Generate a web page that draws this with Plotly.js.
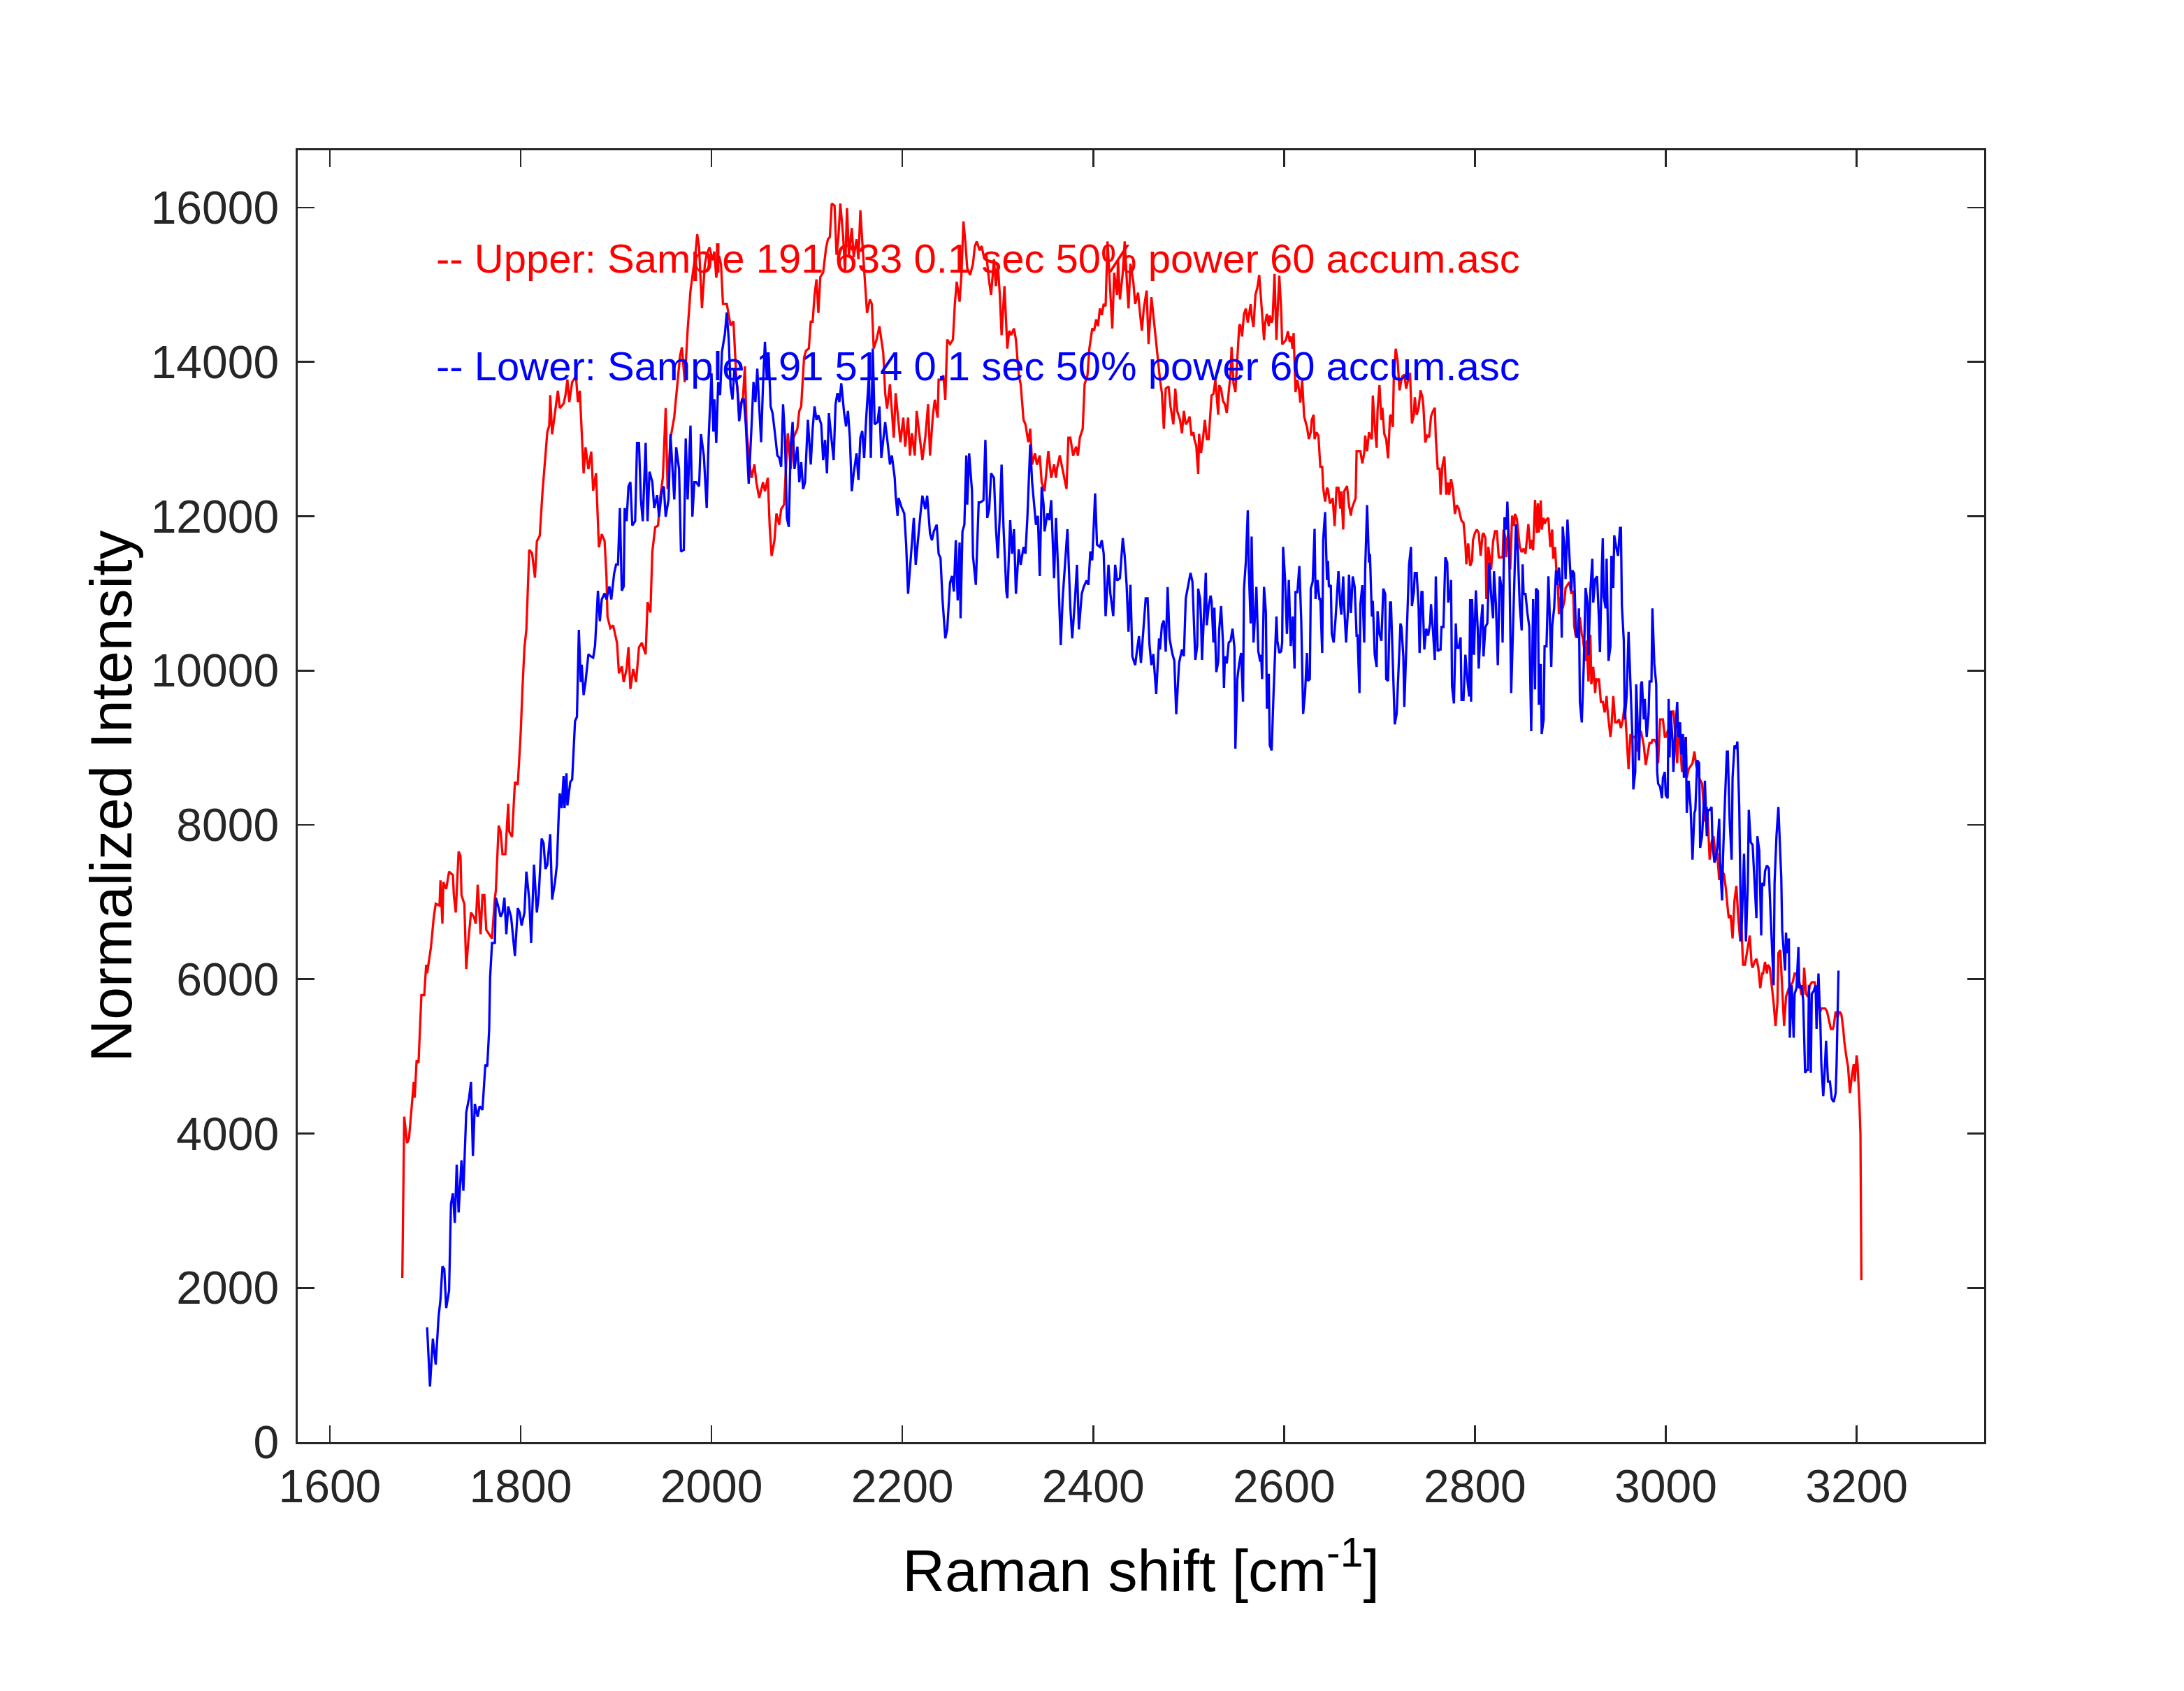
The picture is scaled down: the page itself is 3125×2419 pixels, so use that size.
<!DOCTYPE html>
<html>
<head>
<meta charset="utf-8">
<script src="https://cdn.plot.ly/plotly-3.0.1.min.js"></script>
<style>
  html, body { margin: 0; padding: 0; background: #ffffff; }
  #graficoRaman { width: 3125px; height: 2419px; }
</style>
</head>
<body>
<div id="graficoRaman"></div>
<script>
// Raman shift [cm-1], normalized intensity
const upperSpectrum = [
  [1676,2130],[1678,4217],[1681,3878],[1683,3935],[1688,4667],[1689,4464],[1691,4950],[1693,4915],[1696,5794],[1699,5794],
  [1701,6188],[1702,6076],[1706,6414],[1709,6808],[1711,6977],[1715,6955],[1716,7282],[1718,6718],[1719,7259],[1722,7169],
  [1725,7394],[1729,7349],[1730,7090],[1732,6864],[1735,7654],[1737,7597],[1738,7090],[1741,6977],[1743,6132],[1745,6470],
  [1748,6864],[1751,6808],[1753,6718],[1755,7225],[1756,7034],[1758,6583],[1760,7090],[1762,7090],[1764,6639],[1767,6583],
  [1770,6527],[1773,7056],[1774,7146],[1777,7992],[1779,7913],[1781,7620],[1784,7620],[1787,8274],[1788,7913],[1791,7845],
  [1794,8555],[1797,8521],[1800,9175],[1802,9795],[1804,10302],[1806,10528],[1809,11565],[1812,11520],[1815,11204],[1817,11677],
  [1820,11745],[1823,12331],[1826,12781],[1828,13097],[1830,13176],[1831,13570],[1833,13063],[1836,13345],[1839,13627],[1841,13401],
  [1845,13458],[1847,13570],[1849,13773],[1851,13480],[1854,13739],[1858,13818],[1860,13480],[1862,13627],[1864,13063],[1866,12556],
  [1868,12894],[1871,12612],[1874,12838],[1876,12331],[1879,12556],[1882,11598],[1885,11767],[1888,11677],[1890,11204],[1891,10697],
  [1894,10550],[1897,10584],[1899,10471],[1901,10359],[1903,9964],[1906,10054],[1908,9851],[1911,10020],[1913,10302],[1915,9761],
  [1918,10020],[1921,9851],[1924,10302],[1927,10359],[1931,10212],[1933,10888],[1936,10753],[1938,11542],[1941,11857],[1944,11880],
  [1946,12218],[1949,12500],[1952,13401],[1954,12353],[1957,13007],[1961,13289],[1964,13683],[1967,14077],[1969,14190],[1972,13739],
  [1975,14415],[1978,14923],[1981,15204],[1983,15374],[1985,15655],[1987,15486],[1990,14697],[1993,15261],[1995,15396],[1998,15486],
  [2001,15317],[2003,15430],[2005,15092],[2008,15374],[2010,15261],[2012,14754],[2016,14754],[2020,14472],[2023,14528],[2026,13796],
  [2029,13401],[2031,13481],[2033,13538],[2035,13943],[2037,13076],[2040,12671],[2042,12498],[2045,12671],[2047,12440],[2050,12238],
  [2054,12440],[2056,12324],[2059,12498],[2061,11862],[2063,11486],[2066,11689],[2068,12036],[2071,11891],[2073,12093],[2076,12151],
  [2078,12671],[2080,13076],[2083,12613],[2086,13018],[2090,13134],[2092,13365],[2094,13423],[2097,14058],[2099,14145],[2102,14174],
  [2104,14521],[2106,14521],[2108,14868],[2110,15070],[2112,14636],[2114,15099],[2117,15157],[2120,15474],[2122,15590],[2124,15619],
  [2126,16053],[2129,16024],[2131,15388],[2133,15619],[2135,16053],[2138,15619],[2140,15157],[2142,15995],[2144,15388],[2147,15735],
  [2149,15359],[2152,15590],[2154,15330],[2156,15966],[2158,15561],[2160,15157],[2163,14636],[2166,14810],[2168,14752],[2170,14174],
  [2173,14290],[2176,14463],[2178,14290],[2180,14116],[2182,13596],[2184,13394],[2187,13712],[2189,13365],[2191,13018],[2193,13596],
  [2196,13249],[2198,12960],[2201,13278],[2203,12902],[2206,13278],[2208,12787],[2210,13076],[2213,12787],[2215,13365],[2218,13047],
  [2221,12729],[2224,13018],[2227,13452],[2229,12787],[2232,13307],[2234,13510],[2237,13278],[2238,13770],[2241,13770],[2243,13827],
  [2245,13510],[2247,14290],[2250,14232],[2253,14290],[2255,14752],[2257,15041],[2260,14781],[2262,15157],[2264,15821],[2266,15561],
  [2268,15214],[2271,15128],[2274,15272],[2276,15503],[2278,15561],[2281,15446],[2283,15503],[2286,15330],[2288,15388],[2291,15041],
  [2293,14868],[2296,15330],[2298,14983],[2300,15272],[2302,14897],[2304,14347],[2307,14983],[2310,14174],[2312,14405],[2314,14347],
  [2317,14434],[2319,14290],[2322,13827],[2324,13712],[2327,13249],[2329,13191],[2332,12960],[2334,13134],[2336,12671],[2339,12816],
  [2341,12671],[2344,12787],[2346,12440],[2349,12324],[2351,12613],[2353,12845],[2356,12498],[2359,12671],[2361,12498],[2362,12613],
  [2365,12787],[2369,12556],[2372,12353],[2374,13018],[2376,13018],[2379,12787],[2382,12902],[2384,12787],[2386,13018],[2389,13134],
  [2391,13712],[2394,13827],[2396,14174],[2399,14434],[2401,14405],[2403,14550],[2405,14463],[2407,14694],[2409,14608],[2411,14752],
  [2413,14723],[2415,15561],[2417,15099],[2420,14434],[2422,15157],[2425,14868],[2426,15330],[2428,14810],[2431,15157],[2433,15561],
  [2435,15099],[2437,14694],[2439,15272],[2442,15041],[2444,14752],[2447,14897],[2449,14636],[2451,14405],[2453,14694],[2456,14925],
  [2458,14232],[2461,14839],[2463,14608],[2466,14232],[2468,14001],[2470,13770],[2472,13596],[2474,13134],[2476,13654],[2479,13683],
  [2481,13423],[2484,13191],[2486,13654],[2488,13365],[2491,13249],[2493,13076],[2495,13365],[2497,13191],[2499,13226],[2501,13293],
  [2503,13045],[2505,13090],[2506,13000],[2508,12910],[2510,12549],[2511,13068],[2513,12820],[2515,13000],[2517,13248],[2519,13000],
  [2521,13000],[2523,13451],[2524,13564],[2526,13586],[2528,13767],[2531,13316],[2532,13699],[2534,13654],[2536,13496],[2538,13451],
  [2540,13338],[2542,13609],[2544,13857],[2545,14195],[2547,13722],[2549,13609],[2551,14037],[2553,14465],[2554,14488],[2556,14330],
  [2558,14623],[2560,14691],[2562,14510],[2563,14578],[2565,14749],[2566,14601],[2568,14452],[2570,14871],[2572,14961],[2574,15128],
  [2575,14939],[2577,14668],[2579,14285],[2580,14488],[2582,14623],[2584,14465],[2585,14601],[2587,14510],[2588,14555],[2590,15142],
  [2592,14285],[2593,14578],[2595,15119],[2597,14668],[2598,14240],[2599,14240],[2602,14285],[2604,14398],[2606,14262],[2607,14330],
  [2609,14172],[2610,14375],[2612,13609],[2614,13767],[2616,13609],[2617,13474],[2619,13767],[2621,13293],[2623,13180],[2624,13158],
  [2626,13000],[2628,13090],[2629,13248],[2631,13316],[2632,13000],[2634,13090],[2636,13045],[2638,12640],[2640,12640],[2641,12369],
  [2643,12189],[2645,12369],[2646,12347],[2648,12166],[2650,12211],[2651,12234],[2653,11873],[2655,12369],[2657,12369],[2659,12099],
  [2660,12324],[2662,11828],[2663,12324],[2666,12392],[2668,12144],[2670,12009],[2671,12099],[2673,12166],[2675,12234],[2676,12842],
  [2678,12842],[2680,12842],[2682,12685],[2684,12820],[2685,13045],[2687,12842],[2689,13090],[2690,13045],[2692,13000],[2693,13564],
  [2695,13180],[2697,12887],[2698,13383],[2700,13699],[2702,13248],[2703,13406],[2705,13068],[2707,13000],[2709,12752],[2711,13293],
  [2712,13316],[2714,13158],[2715,13812],[2717,14172],[2719,14014],[2721,13632],[2723,13767],[2724,13812],[2726,13834],[2728,13654],
  [2730,13767],[2732,13857],[2734,13203],[2736,13316],[2737,13541],[2739,13316],[2741,13406],[2743,13632],[2745,13541],[2746,13428],
  [2748,12955],[2750,13045],[2752,13023],[2754,13293],[2756,13361],[2758,13406],[2759,13023],[2761,12617],[2763,12617],[2764,12279],
  [2766,12662],[2768,12775],[2770,12279],[2772,12437],[2773,12279],[2775,12482],[2777,12347],[2779,12031],[2781,12144],[2783,12099],
  [2785,11986],[2786,11941],[2788,11918],[2790,11648],[2791,11377],[2793,11648],[2795,11355],[2797,11423],[2798,11693],[2800,11783],
  [2802,11828],[2804,11783],[2806,11490],[2808,11760],[2809,11783],[2811,11716],[2812,10927],[2814,11603],[2816,11423],[2817,11310],
  [2819,11670],[2821,11806],[2823,11806],[2825,11468],[2827,11468],[2829,11468],[2830,11828],[2832,11716],[2833,11468],[2835,11828],
  [2837,11310],[2839,12009],[2841,11873],[2842,12031],[2844,11963],[2846,11738],[2847,11603],[2849,11535],[2851,11580],[2853,11513],
  [2855,11738],[2856,11896],[2858,11580],[2860,11693],[2861,11558],[2863,12211],[2865,11783],[2866,12168],[2867,11790],[2869,12206],
  [2870,11828],[2872,11979],[2873,11903],[2875,11956],[2877,11979],[2879,11601],[2881,11828],[2882,11449],[2884,11601],[2886,11146],
  [2887,11109],[2888,10730],[2890,10957],[2892,10806],[2894,10919],[2895,11071],[2897,11109],[2899,11146],[2901,10995],[2903,11033],
  [2904,10579],[2906,10427],[2908,10465],[2910,10692],[2912,10465],[2913,10427],[2916,10124],[2917,10389],[2919,9859],[2921,10465],
  [2922,9822],[2924,10049],[2926,9708],[2927,9897],[2929,9859],[2930,9897],[2932,9594],[2934,9594],[2936,9458],[2938,9670],
  [2939,9481],[2942,9140],[2943,9254],[2945,9670],[2947,9329],[2949,9329],[2951,9367],[2953,9254],[2955,9367],[2957,9557],
  [2959,9140],[2961,8724],[2963,9178],[2964,9140],[2966,9140],[2968,9140],[2970,8951],[2972,9140],[2974,9216],[2976,9064],
  [2977,9027],[2979,8777],[2981,8913],[2983,9064],[2985,9064],[2986,9102],[2988,9102],[2990,9064],[2992,8799],[2994,9367],
  [2995,9367],[2997,9367],[2999,9140],[3000,9140],[3002,9216],[3004,9254],[3006,9443],[3008,9481],[3010,9178],[3012,8799],
  [3013,9216],[3015,9064],[3017,8686],[3019,8837],[3021,9140],[3022,8610],[3024,8724],[3026,8761],[3028,8799],[3030,8951],
  [3032,8761],[3034,8686],[3035,8610],[3038,8534],[3039,8383],[3041,8042],[3043,8232],[3044,8080],[3046,7550],[3048,7777],
  [3050,7853],[3052,7626],[3054,7626],[3056,7285],[3057,7512],[3059,7399],[3061,7361],[3063,7172],[3065,6907],[3066,6793],
  [3068,6831],[3070,6528],[3072,7020],[3074,7209],[3076,6793],[3078,6490],[3079,6755],[3081,6187],[3083,6187],[3085,6339],
  [3087,6490],[3088,6566],[3090,6187],[3091,6149],[3093,6225],[3095,6263],[3097,6149],[3099,5884],[3101,6074],[3102,6074],
  [3104,6225],[3106,6074],[3107,6187],[3109,6149],[3111,5922],[3113,5695],[3115,5393],[3117,5695],[3118,6339],[3120,6377],
  [3122,5884],[3124,5393],[3126,5771],[3127,5809],[3129,5884],[3131,5922],[3133,5960],[3135,6074],[3137,6074],[3139,5884],
  [3140,5960],[3142,5809],[3144,5809],[3145,6149],[3147,5809],[3149,5771],[3151,5922],[3153,5960],[3154,5960],[3156,5960],
  [3158,5846],[3160,5695],[3162,5582],[3163,5620],[3165,5620],[3167,5620],[3169,5582],[3171,5469],[3173,5355],[3175,5355],
  [3176,5393],[3178,5582],[3180,5506],[3182,5582],[3184,5544],[3186,5355],[3187,5203],[3189,5014],[3191,4863],[3193,4522],
  [3195,4749],[3197,4900],[3198,4673],[3200,5014],[3201,4900],[3203,4370],[3204,3992],[3205,2099]
];

const lowerSpectrum = [
  [1702,1489],[1705,722],[1708,1342],[1711,1004],[1714,1624],[1716,1850],[1718,2278],[1720,2244],[1722,1737],[1725,1962],
  [1727,3089],[1729,3224],[1731,2841],[1733,3596],[1735,2976],[1738,3653],[1740,3258],[1743,4272],[1746,4464],[1748,4667],
  [1750,3709],[1752,4385],[1755,4217],[1757,4352],[1760,4307],[1763,4893],[1765,4870],[1767,5343],[1768,6019],[1770,6470],
  [1773,6470],[1774,7056],[1777,6921],[1779,6808],[1781,6864],[1783,7056],[1785,6583],[1787,6943],[1790,6808],[1792,6527],
  [1794,6301],[1797,6921],[1799,6864],[1801,6695],[1804,6864],[1806,7394],[1809,7034],[1811,6470],[1814,7485],[1817,6864],
  [1819,7090],[1822,7823],[1824,7766],[1826,7428],[1828,7485],[1831,7879],[1833,7034],[1836,7259],[1838,7485],[1840,8161],
  [1841,8409],[1843,8217],[1845,8634],[1846,8217],[1848,8668],[1849,8251],[1852,8555],[1854,8589],[1857,9344],[1859,9401],
  [1861,10528],[1863,9851],[1864,10077],[1866,9682],[1868,9851],[1871,10212],[1873,10189],[1876,10167],[1878,10325],[1881,11035],
  [1883,10640],[1885,10922],[1888,11001],[1890,10922],[1893,11091],[1895,10922],[1898,11260],[1900,11373],[1902,11373],[1904,12106],
  [1906,11035],[1908,11091],[1909,12106],[1911,11936],[1913,12387],[1915,12443],[1917,11880],[1920,11936],[1922,12950],[1924,12950],
  [1926,12218],[1928,11936],[1931,12950],[1933,11936],[1935,12578],[1938,12443],[1940,12106],[1943,12274],[1945,11993],[1948,12331],
  [1950,12387],[1952,11993],[1955,12218],[1957,13063],[1961,12218],[1963,12894],[1966,12612],[1968,11542],[1971,11565],[1973,13007],
  [1975,12218],[1978,13176],[1980,11993],[1982,12443],[1984,12443],[1987,12387],[1989,13063],[1992,12781],[1995,12106],[1997,13007],
  [2000,13852],[2002,13097],[2003,13514],[2005,12950],[2007,13739],[2009,13570],[2011,14134],[2014,14359],[2016,14641],[2018,14303],
  [2020,13683],[2022,13514],[2024,13909],[2027,13683],[2029,13232],[2032,13514],[2034,13514],[2036,13176],[2039,12421],[2042,13176],
  [2044,13741],[2046,13480],[2048,13914],[2050,13423],[2052,12960],[2054,13712],[2056,14261],[2058,13770],[2060,14058],[2062,13423],
  [2064,13336],[2067,13018],[2069,12787],[2071,12758],[2073,12642],[2075,13452],[2077,13018],[2079,11978],[2081,11862],[2083,12902],
  [2085,13220],[2087,12613],[2090,12902],[2092,12440],[2094,12700],[2096,12353],[2098,12440],[2101,13249],[2104,12671],[2106,13134],
  [2108,13423],[2110,13249],[2112,13307],[2115,13191],[2117,12729],[2119,12989],[2121,12556],[2123,13336],[2126,12931],[2128,12729],
  [2130,13452],[2132,13596],[2134,13480],[2136,13723],[2139,13336],[2141,13163],[2143,13365],[2145,13018],[2147,12324],[2149,12556],
  [2152,12816],[2154,12469],[2156,13018],[2158,13105],[2160,12758],[2162,13249],[2165,13827],[2167,12758],[2169,14174],[2171,13191],
  [2174,13220],[2176,13423],[2178,12758],[2180,13018],[2182,13220],[2184,13018],[2187,12671],[2189,12787],[2192,12498],[2193,12267],
  [2195,12007],[2196,12238],[2199,12122],[2202,12036],[2204,11631],[2206,10995],[2208,11313],[2210,11631],[2212,11978],[2214,11371],
  [2217,11804],[2219,12036],[2221,12267],[2224,12093],[2226,12267],[2229,11775],[2231,11689],[2233,11804],[2236,11891],[2238,11515],
  [2240,11457],[2242,10937],[2245,10417],[2247,10533],[2250,11140],[2252,11226],[2254,11024],[2256,11689],[2258,10908],[2260,11660],
  [2261,10677],[2263,11804],[2265,11891],[2267,12787],[2268,12151],[2270,12816],[2273,12324],[2274,11486],[2277,11111],[2278,11486],
  [2280,12180],[2282,12180],[2285,12209],[2287,12989],[2289,11978],[2291,12093],[2293,12556],[2296,12498],[2298,11862],[2300,11457],
  [2302,11978],[2304,12671],[2306,11862],[2309,11024],[2310,10937],[2313,11949],[2315,11515],[2317,11833],[2319,10995],[2322,11573],
  [2324,11371],[2327,11602],[2329,11515],[2331,11978],[2334,12931],[2336,12440],[2338,12151],[2340,11891],[2342,12007],[2344,11226],
  [2346,12382],[2348,12151],[2349,11804],[2352,12036],[2354,11949],[2356,12209],[2359,11197],[2361,11978],[2363,11371],[2366,10330],
  [2368,10937],[2371,11429],[2373,11833],[2376,10822],[2378,10417],[2381,10937],[2383,11371],[2385,10533],[2388,10995],[2390,11082],
  [2393,11168],[2395,11111],[2397,11544],[2399,11429],[2402,12296],[2404,11631],[2407,11602],[2409,11689],[2411,11515],[2413,10706],
  [2416,11371],[2418,10995],[2421,10706],[2423,11371],[2425,11168],[2428,11197],[2431,11718],[2433,11486],[2435,11111],[2437,10504],
  [2439,11111],[2441,10186],[2444,10070],[2446,10273],[2448,10446],[2450,10099],[2452,10417],[2455,10937],[2457,10937],[2459,10330],
  [2461,10070],[2463,10215],[2466,9695],[2467,9926],[2469,10417],[2470,10273],[2472,10590],[2474,10648],[2476,10244],[2478,11082],
  [2480,10417],[2483,10215],[2485,10128],[2487,9434],[2490,10099],[2493,10273],[2495,10186],[2497,10937],[2499,11062],[2502,11265],
  [2504,11152],[2505,10746],[2507,10138],[2509,10318],[2510,11062],[2512,10927],[2513,10656],[2514,10138],[2516,10746],[2518,11265],
  [2519,10588],[2521,10836],[2523,10972],[2524,10904],[2526,10363],[2527,10814],[2529,9980],[2531,10115],[2532,10521],[2534,10836],
  [2536,10363],[2537,9777],[2538,10183],[2540,10093],[2542,10363],[2544,10386],[2546,10543],[2548,10295],[2549,8988],[2551,9890],
  [2553,10093],[2555,10228],[2557,9597],[2558,11062],[2560,11422],[2562,12076],[2563,11332],[2565,10611],[2566,11738],[2568,10363],
  [2570,10814],[2571,11084],[2573,10250],[2575,10115],[2576,10205],[2577,9890],[2579,11084],[2581,10746],[2582,9506],[2584,9958],
  [2585,9033],[2587,8966],[2589,9709],[2592,10701],[2593,10386],[2595,10228],[2597,10250],[2598,10363],[2599,11603],[2601,11197],
  [2603,10476],[2605,11174],[2607,10318],[2609,10701],[2611,10025],[2612,11017],[2614,11017],[2616,11355],[2618,10656],[2620,9439],
  [2622,9709],[2624,10228],[2625,9867],[2627,9890],[2628,11062],[2630,11152],[2632,11837],[2633,10927],[2635,11174],[2637,10927],
  [2638,10927],[2640,10228],[2641,11693],[2643,12054],[2645,11174],[2646,11422],[2647,11084],[2649,11107],[2650,10476],[2652,10363],
  [2654,10678],[2655,10927],[2657,11287],[2659,10836],[2660,10724],[2662,11220],[2663,10836],[2665,10363],[2667,10791],[2668,11242],
  [2670,10746],[2672,11220],[2674,11084],[2676,10453],[2677,10453],[2679,9709],[2680,10859],[2682,11107],[2684,10363],[2685,11310],
  [2687,12144],[2689,11400],[2690,11513],[2692,10701],[2693,10904],[2695,10205],[2697,10048],[2698,10769],[2700,10476],[2702,10386],
  [2704,11062],[2706,10994],[2707,9890],[2709,9867],[2711,10881],[2712,10881],[2714,10070],[2716,9304],[2718,9439],[2720,10070],
  [2722,10611],[2723,10566],[2725,10183],[2726,9529],[2728,10295],[2730,10994],[2731,11377],[2733,11603],[2734,10836],[2736,11017],
  [2737,11265],[2739,11265],[2741,10814],[2742,10228],[2744,11017],[2745,11017],[2747,10273],[2749,10543],[2751,10453],[2753,10611],
  [2754,10859],[2756,10521],[2758,10138],[2759,11220],[2761,10250],[2763,10273],[2764,10273],[2765,10566],[2767,10566],[2769,11468],
  [2771,11400],[2772,10881],[2774,10994],[2775,11174],[2776,9799],[2778,9574],[2780,10611],[2781,10295],[2783,10295],[2785,10431],
  [2786,9619],[2788,9619],[2790,10205],[2792,9890],[2794,9664],[2795,10927],[2796,9597],[2797,10927],[2799,10205],[2801,11039],
  [2803,10521],[2804,10025],[2806,10566],[2808,10859],[2809,10183],[2811,10566],[2813,10611],[2815,11400],[2817,10972],[2819,10678],
  [2820,11287],[2822,10859],[2824,10070],[2826,11220],[2828,11062],[2829,10363],[2831,11986],[2833,11828],[2834,12189],[2836,11513],
  [2838,9709],[2839,10138],[2841,10927],[2843,11896],[2845,11535],[2847,10836],[2849,10521],[2850,11377],[2851,10994],[2853,10994],
  [2855,10746],[2857,10566],[2859,9214],[2861,10927],[2863,9755],[2864,11062],[2866,11033],[2867,9557],[2869,10087],[2870,9178],
  [2872,9367],[2873,10314],[2875,10314],[2877,11222],[2878,10881],[2880,10049],[2881,10579],[2883,10806],[2885,11298],[2886,11109],
  [2888,11336],[2890,11033],[2891,10427],[2892,11866],[2894,11563],[2895,11184],[2897,11956],[2899,11487],[2901,11033],[2902,11298],
  [2904,11260],[2906,10465],[2908,10427],[2909,10806],[2910,9594],[2912,9329],[2913,9670],[2914,10049],[2916,11071],[2918,10881],
  [2919,10200],[2921,11033],[2923,11449],[2924,10881],[2926,11184],[2928,11222],[2930,10654],[2931,10238],[2933,11336],[2934,11714],
  [2935,10957],[2937,10806],[2938,11449],[2940,10124],[2942,10314],[2943,11487],[2945,11071],[2946,11752],[2948,11601],[2950,11487],
  [2952,11850],[2953,11850],[2954,10844],[2956,10389],[2957,9367],[2959,9670],[2961,10503],[2963,9822],[2965,9140],[2966,8459],
  [2968,8686],[2969,9822],[2971,9216],[2972,8837],[2974,9822],[2975,9859],[2977,9367],[2978,9632],[2980,9140],[2982,9443],
  [2983,9859],[2985,9859],[2986,10806],[2988,10087],[2990,9822],[2991,8686],[2992,8534],[2994,8496],[2996,8345],[2997,8610],
  [2999,8686],[3000,8383],[3002,8345],[3003,9632],[3004,8875],[3005,9481],[3007,9102],[3008,8686],[3010,9216],[3012,9594],
  [3013,9140],[3015,9329],[3016,8913],[3018,9178],[3019,8610],[3021,9140],[3022,8156],[3024,8572],[3026,8232],[3028,7550],
  [3030,8156],[3031,8194],[3033,8837],[3035,8799],[3036,7701],[3038,7853],[3039,8080],[3041,8572],[3043,7853],[3044,8194],
  [3046,8194],[3048,8232],[3049,7739],[3051,7512],[3052,7550],[3054,7701],[3056,8080],[3057,7474],[3059,7020],[3060,7588],
  [3062,8307],[3064,8951],[3065,8951],[3067,8042],[3069,7550],[3070,8610],[3072,9027],[3074,8989],[3075,9080],[3077,8232],
  [3079,6490],[3081,7437],[3082,7626],[3084,6490],[3086,7247],[3087,8194],[3089,7777],[3091,7739],[3093,7209],[3095,6793],
  [3096,7853],[3098,7664],[3100,6566],[3101,7247],[3103,7209],[3104,7399],[3106,7474],[3108,7437],[3109,7096],[3111,6490],
  [3113,5922],[3114,7247],[3116,7853],[3118,8232],[3119,7929],[3121,7323],[3122,6642],[3124,6301],[3125,6111],[3126,6604],
  [3127,6339],[3129,6528],[3130,5241],[3132,5922],[3134,5241],[3135,5809],[3137,5884],[3139,6415],[3140,5884],[3142,5922],
  [3144,5733],[3146,4787],[3148,4825],[3149,4825],[3150,5922],[3152,4787],[3153,5809],[3155,5846],[3157,5922],[3158,5355],
  [3160,6074],[3162,5430],[3163,4900],[3165,4484],[3166,4673],[3168,5203],[3170,4673],[3172,4673],[3174,4446],[3176,4408],
  [3178,4522],[3179,4900],[3181,6111]
];

const xTicks = [1600, 1800, 2000, 2200, 2400, 2600, 2800, 3000, 3200];
const yTicks = [0, 2000, 4000, 6000, 8000, 10000, 12000, 14000, 16000];
const upperLabel = '-- Upper: Sample 191 633 0.1 sec 50% power 60 accum.asc';
const lowerLabel = '-- Lower: Sample 191 514 0.1 sec 50% power 60 accum.asc';

const fonte = 'Liberation Sans, Arial, Helvetica, sans-serif';
const cinza = '#262626';

var data = [
  {
    x: upperSpectrum.map(p => p[0]),
    y: upperSpectrum.map(p => p[1]),
    type: 'scatter',
    mode: 'lines',
    line: { color: '#ff0000', width: 3.3 },
    name: 'Upper'
  },
  {
    x: lowerSpectrum.map(p => p[0]),
    y: lowerSpectrum.map(p => p[1]),
    type: 'scatter',
    mode: 'lines',
    line: { color: '#0000ff', width: 3.3 },
    name: 'Lower'
  }
];

var eixo = {
  showgrid: false,
  zeroline: false,
  showline: true,
  linecolor: cinza,
  linewidth: 2.6,
  mirror: 'ticks',
  ticks: 'inside',
  ticklen: 24,
  tickwidth: 2.6,
  tickcolor: cinza,
  tickfont: { family: fonte, size: 66, color: cinza }
};

var layout = {
  width: 3125,
  height: 2419,
  paper_bgcolor: '#ffffff',
  plot_bgcolor: '#ffffff',
  showlegend: false,
  margin: { l: 426, r: 286, t: 215, b: 356 },
  xaxis: Object.assign({}, eixo, {
    range: [1566.4, 3333.6],
    tickvals: xTicks,
    ticktext: xTicks.map(String),
    ticklabelstandoff: 4,
    title: { text: 'Raman shift [cm<sup>-1</sup>]', font: { family: fonte, size: 84, color: '#000000' }, standoff: 56 }
  }),
  yaxis: Object.assign({}, eixo, {
    range: [0, 16743],
    tickvals: yTicks,
    ticktext: yTicks.map(String),
    ticklabelstandoff: 11,
    title: { text: 'Normalized Intensity', font: { family: fonte, size: 84, color: '#000000' }, standoff: 0 }
  }),
  annotations: [
    { x: 1709.6, y: 15340, xref: 'x', yref: 'y', text: upperLabel, showarrow: false,
      xanchor: 'left', yanchor: 'middle', font: { family: fonte, size: 58, color: '#ff0000' } },
    { x: 1709.6, y: 13950, xref: 'x', yref: 'y', text: lowerLabel, showarrow: false,
      xanchor: 'left', yanchor: 'middle', font: { family: fonte, size: 58, color: '#0000ff' } }
  ]
};

Plotly.newPlot('graficoRaman', data, layout, { displayModeBar: false, staticPlot: true });
</script>
</body>
</html>
